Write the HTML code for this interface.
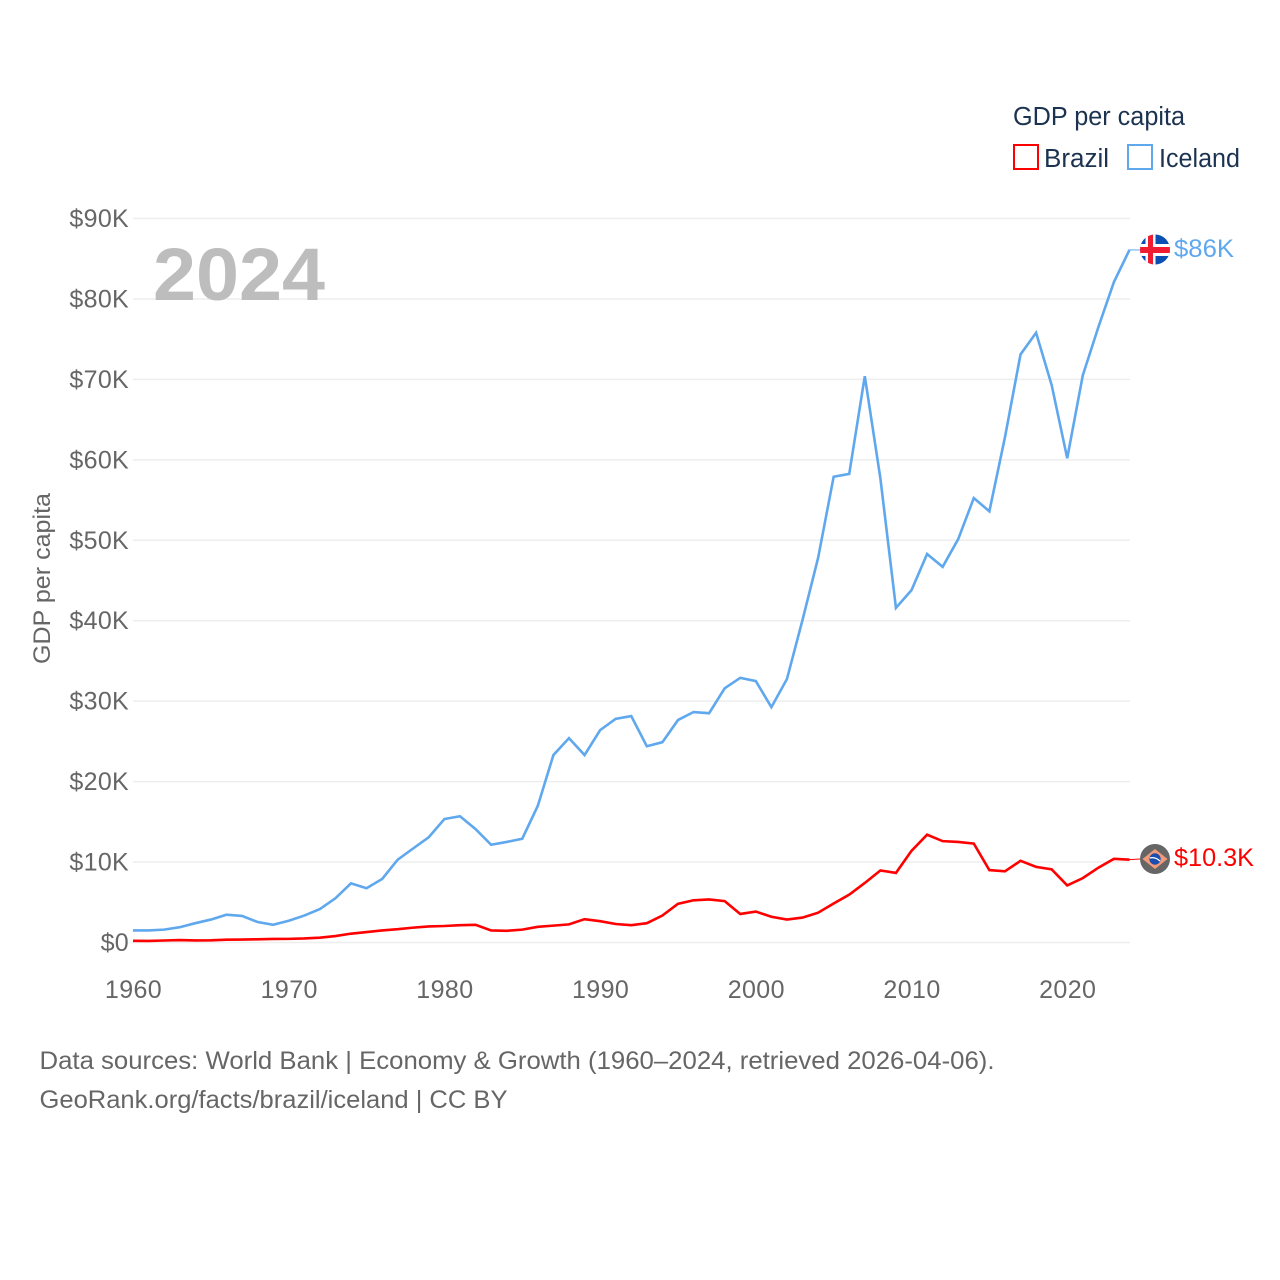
<!DOCTYPE html>
<html lang="en">
<head>
<meta charset="utf-8">
<title>GDP per capita: Brazil and Iceland</title>
<style>
html,body{margin:0;padding:0;background:#fff;width:1280px;height:1280px;overflow:hidden}
svg{display:block;font-family:"Liberation Sans",sans-serif}
</style>
</head>
<body>
<svg id="chart" width="1280" height="1280" viewBox="0 0 1280 1280" xmlns="http://www.w3.org/2000/svg">
  <defs>
    <clipPath id="flag-clip-is"><circle cx="1155" cy="249.5" r="15"/></clipPath>
    <clipPath id="flag-clip-br"><circle cx="1155" cy="859" r="15"/></clipPath>
  </defs>
  <g id="grid"></g>
  <text x="153" y="300" font-size="74" font-weight="700" fill="#bdbdbd" textLength="172" lengthAdjust="spacingAndGlyphs">2024</text>
  <g id="y-ticks"></g>
  <g id="x-ticks"></g>
  <text transform="translate(50,578.5) rotate(-90)" text-anchor="middle" font-size="24.5" fill="#666" textLength="171" lengthAdjust="spacingAndGlyphs">GDP per capita</text>
  <g id="series"></g>

  <g>
    <text x="1013" y="125" font-size="25.5" fill="#1b3350" textLength="172" lengthAdjust="spacingAndGlyphs">GDP per capita</text>
    <g>
      <rect x="1014" y="145" width="24" height="24" fill="#fff" stroke="#ff0000" stroke-width="2"/>
      <text x="1044" y="167" font-size="25.5" fill="#1b3350" textLength="65" lengthAdjust="spacingAndGlyphs">Brazil</text>
    </g>
    <g>
      <rect x="1128" y="145" width="24" height="24" fill="#fff" stroke="#5fa8ee" stroke-width="2"/>
      <text x="1159" y="167" font-size="25.5" fill="#1b3350" textLength="81" lengthAdjust="spacingAndGlyphs">Iceland</text>
    </g>
  </g>

  <g clip-path="url(#flag-clip-is)">
    <rect x="1140" y="234" width="30" height="31" fill="#0b4fb3"/>
    <rect x="1140" y="244" width="30" height="12" fill="#fff"/>
    <rect x="1145.5" y="234" width="10" height="31" fill="#fff"/>
    <rect x="1140" y="247" width="30" height="6" fill="#f01c31"/>
    <rect x="1148" y="234" width="5" height="31" fill="#f01c31"/>
  </g>
  <g clip-path="url(#flag-clip-br)">
    <rect x="1140" y="844" width="30" height="30" fill="#666"/>
    <polygon points="1142.5,859 1155,849 1167.5,859 1155,869" fill="#f59a78"/>
    <circle cx="1155" cy="859" r="5.7" fill="#1a4fb0"/>
    <path d="M1149.8,858 Q1155,856.5 1160,861" stroke="#fff" stroke-width="1.3" fill="none"/>
  </g>
  <text x="1174" y="257" font-size="25" fill="#5fa8ee" textLength="60" lengthAdjust="spacingAndGlyphs">$86K</text>
  <text x="1174" y="866" font-size="25" fill="#ff0000" textLength="80" lengthAdjust="spacingAndGlyphs">$10.3K</text>

  <text x="39.5" y="1069" font-size="25" fill="#666" textLength="955" lengthAdjust="spacingAndGlyphs">Data sources: World Bank | Economy &amp; Growth (1960–2024, retrieved 2026-04-06).</text>
  <text x="39.5" y="1108" font-size="25" fill="#666" textLength="468" lengthAdjust="spacingAndGlyphs">GeoRank.org/facts/brazil/iceland | CC BY</text>
</svg>
<script>
const years = [];
for (let y = 1960; y <= 2024; y++) years.push(y);
const yTickValues = [0, 10, 20, 30, 40, 50, 60, 70, 80, 90];
const yTickLabels = ["$0", "$10K", "$20K", "$30K", "$40K", "$50K", "$60K", "$70K", "$80K", "$90K"];
const xTickYears = [1960, 1970, 1980, 1990, 2000, 2010, 2020];
const icelandValues = [1.5,1.5,1.6,1.9,2.4,2.85,3.45,3.3,2.55,2.2,2.7,3.35,4.15,5.5,7.35,6.75,7.9,10.3,11.7,13.1,15.35,15.7,14.1,12.15,12.5,12.9,17,23.3,25.4,23.3,26.4,27.8,28.15,24.4,24.9,27.65,28.65,28.5,31.6,32.9,32.5,29.25,32.75,40.1,47.8,57.9,58.25,70.4,57.7,41.6,43.8,48.3,46.7,50.15,55.25,53.6,62.8,73.1,75.8,69.3,60.2,70.5,76.5,82.1,86.1];
const brazilValues = [0.21,0.2,0.25,0.3,0.26,0.27,0.35,0.37,0.4,0.44,0.45,0.5,0.6,0.8,1.1,1.3,1.5,1.65,1.85,2.0,2.05,2.15,2.2,1.5,1.45,1.6,1.95,2.1,2.25,2.9,2.65,2.3,2.15,2.4,3.35,4.8,5.25,5.35,5.15,3.55,3.85,3.2,2.85,3.1,3.7,4.85,5.95,7.4,8.95,8.65,11.4,13.4,12.6,12.5,12.3,9.0,8.85,10.15,9.4,9.1,7.1,8.0,9.3,10.4,10.3];

const NS = 'http://www.w3.org/2000/svg';
function xScale(year) { return 133 + (year - 1960) * (1129.5 - 133) / 64; }
function yScale(v) { return 942.5 - v * (942.5 - 218.5) / 90; }
function make(tag, attrs, parent) {
  const el = document.createElementNS(NS, tag);
  for (const k in attrs) el.setAttribute(k, attrs[k]);
  parent.appendChild(el);
  return el;
}

const gridG = document.getElementById('grid');
const yG = document.getElementById('y-ticks');
yTickValues.forEach(function (v, i) {
  const line = make('line', {x1: 133, x2: 1130, y1: yScale(v), y2: yScale(v), stroke: '#eeeeee', 'stroke-width': 1.5}, gridG);
  
  
  const t = make('text', {x: 129, y: yScale(v) + 8.5, 'text-anchor': 'end', 'font-size': 25, fill: '#666', 'letter-spacing': 0.3}, yG);
  
  
  t.textContent = yTickLabels[i];
});

const xG = document.getElementById('x-ticks');
xTickYears.forEach(function (yr) {
  const t = make('text', {x: xScale(yr) + 0.5, y: 998, 'text-anchor': 'middle', 'font-size': 25, fill: '#666', 'letter-spacing': 0.4}, xG);
  
  
  t.textContent = yr;
});

function linePath(values) {
  return values.map(function (v, i) {
    return (i ? 'L' : 'M') + xScale(years[i]).toFixed(2) + ',' + yScale(v).toFixed(2);
  }).join(' ');
}
const seriesG = document.getElementById('series');

const icelandLine = make('path', {d: linePath(icelandValues), fill: 'none', stroke: '#5fa8ee', 'stroke-width': 2.6, 'stroke-linejoin': 'miter'}, seriesG);



const brazilLine = make('path', {d: linePath(brazilValues), fill: 'none', stroke: '#ff0000', 'stroke-width': 2.6, 'stroke-linejoin': 'miter'}, seriesG);



const icelandEnd = icelandValues[icelandValues.length - 1];
const icelandConnector = make('line', {x1: 1129.5, x2: 1140, y1: yScale(icelandEnd), y2: 250, stroke: '#5fa8ee', 'stroke-width': 1}, seriesG);



const brazilEnd = brazilValues[brazilValues.length - 1];
const brazilConnector = make('line', {x1: 1129.5, x2: 1140, y1: yScale(brazilEnd), y2: 859, stroke: '#ff0000', 'stroke-width': 1}, seriesG);


</script>
</body>
</html>
